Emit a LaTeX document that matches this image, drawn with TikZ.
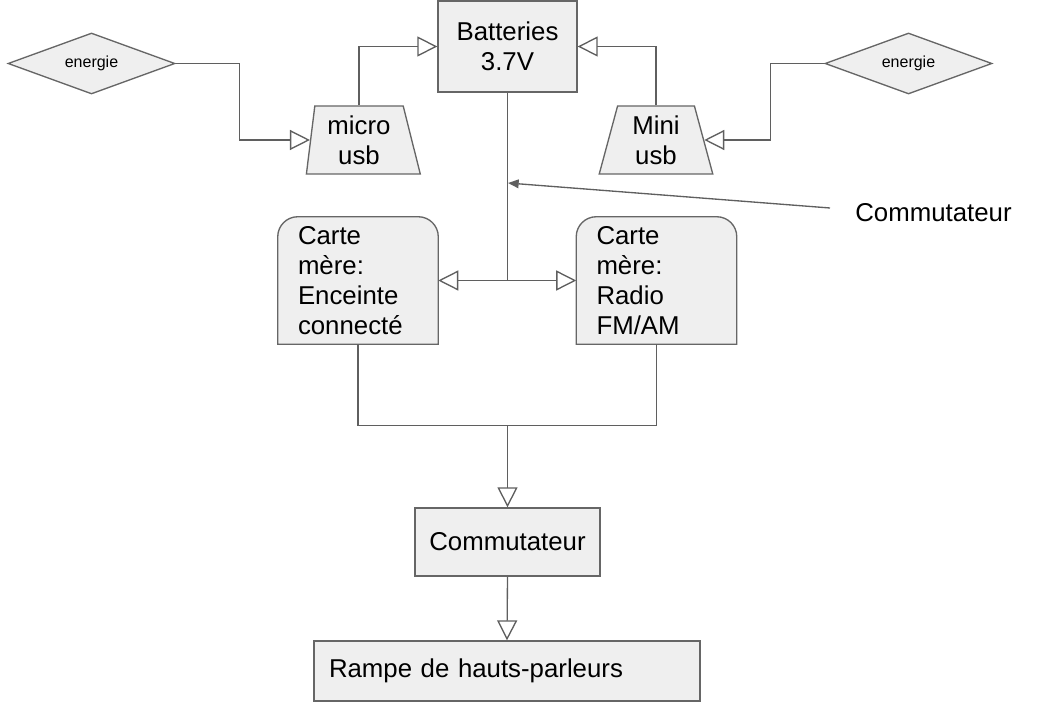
\documentclass[tikz,border=0pt]{standalone}
\usepackage{fontspec}
\setmainfont{Liberation Sans}
\usetikzlibrary{shapes.geometric,arrows.meta,backgrounds}
\definecolor{boxfill}{HTML}{EFEFEF}
\definecolor{edgecol}{HTML}{666666}
\definecolor{wirecol}{HTML}{5F5F5F}
\begin{document}
\begin{tikzpicture}[x=0.75pt,y=-0.75pt,
  every node/.style={font=\fontsize{19.35pt}{22.5pt}\selectfont},
  box/.style={draw=edgecol, fill=boxfill, line width=1pt, inner sep=0pt},
  diam/.style={box, shape=diamond, aspect=2.74, minimum width=125.25pt, minimum height=45.75pt,
    font=\fontsize{12pt}{14pt}\selectfont},
  trap/.style={box, shape=trapezium, trapezium stretches=true, minimum width=85.5pt,
    minimum height=51pt, align=center},
  card/.style={inner sep=0pt, inner xsep=15pt, text width=90pt, align=left, minimum height=95.25pt},
  cardshape/.style={draw=edgecol, fill=boxfill, line width=1pt},
  wire/.style={draw=wirecol, line width=1pt},
  hollow/.style={-{Triangle[length=15pt,width=15pt,fill=white]}},
  pointer/.style={-{Triangle[length=8pt,width=6.5pt,fill=wirecol]}}
]
\useasboundingbox (0,0) rectangle (1049,709);

% nodes
\node[box, minimum width=104.25pt, minimum height=68.25pt, align=center] (bat) at (507.5,46.5) {Batteries\\3.7V};
\node[diam] (e1) at (91.5,63.5) {energie};
\node[diam] (e2) at (908.5,63.5) {energie};
\node[trap, trapezium left angle=83, trapezium right angle=76] (micro) at (359,140) {micro\\usb};
\node[trap, trapezium left angle=77, trapezium right angle=77] (mini) at (656,140) {Mini\\usb};
\node[card] (cl) at (358,280.5) {Carte\\mère:\\Enceinte\\connecté};
\node[card] (cr) at (656.5,280.5) {Carte\\mère:\\Radio\\FM/AM};
\node[box, minimum width=138.75pt, minimum height=51pt] (comm) at (507.5,542) {Commutateur};
\node[box, minimum width=289.5pt, minimum height=45pt, text width=267pt, align=left, inner xsep=11.25pt] (rampe) at (507,671) {Rampe de hauts-parleurs};
\node[inner sep=0pt] (lab) at (933.5,213) {Commutateur};
\coordinate (cstart) at (830,208);
\coordinate (tap) at (508,183);

% card shapes with rounded top corners
\begin{scope}[on background layer]
\foreach \c in {cl,cr}{
  \draw[cardshape] (\c.south west) -- ([yshift=-15pt]\c.north west)
    arc[start angle=180,end angle=90,radius=15pt]
    -- ([xshift=-15pt]\c.north east)
    arc[start angle=90,end angle=0,radius=15pt]
    -- (\c.south east) -- cycle;
}
\end{scope}

% connectors
\draw[wire, hollow] (e1.east) -- ++(64,0) |- (micro.west);
\draw[wire, hollow] (micro.north) |- (bat.west);
\draw[wire, hollow] (mini.north) |- (bat.east);
\draw[wire, hollow] (e2.west) -- ++(-54,0) |- (mini.east);
\draw[wire] (bat.south) -- (bat.south |- cl.east) coordinate (j);
\draw[wire, hollow] (j) -- (cl.east);
\draw[wire, hollow] (j) -- (cr.west);
\draw[wire] (cl.south) -- ++(0,81) coordinate (b1) -- (b1 -| cr.south) -- (cr.south);
\draw[wire, hollow] (b1 -| comm.north) -- (comm.north);
\draw[wire, hollow] (comm.south) -- (rampe.north);
\draw[wire, pointer] (cstart) -- (tap);
\end{tikzpicture}
\end{document}
